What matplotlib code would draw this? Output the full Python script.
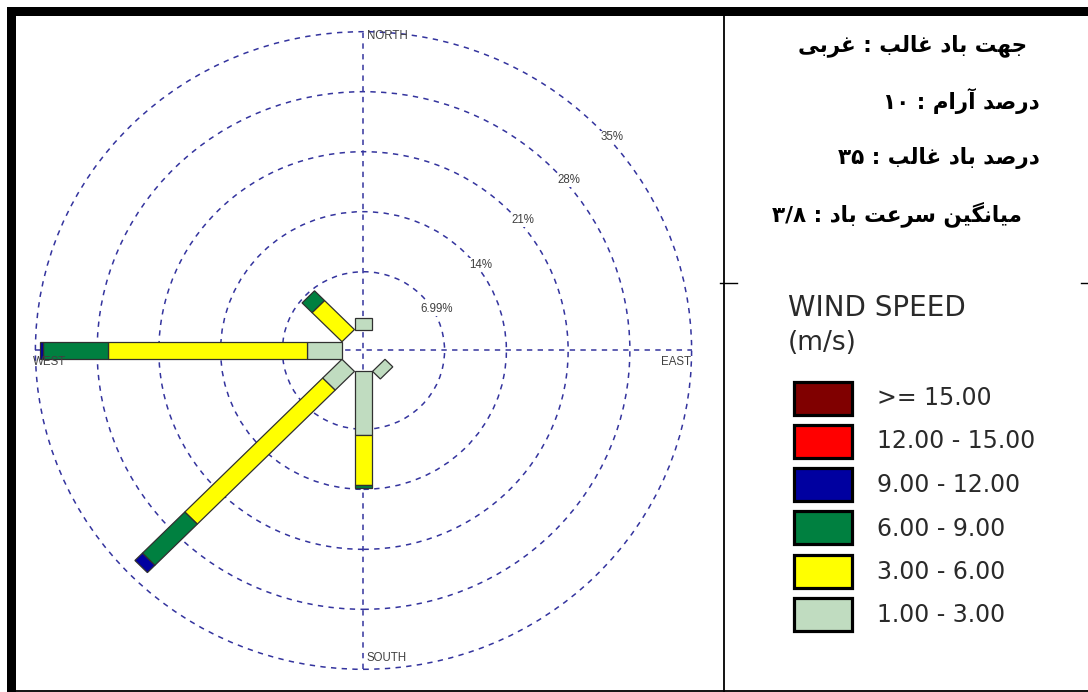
import re
import numpy as np
import matplotlib
matplotlib.use('Agg')
from matplotlib import pyplot as plt
from matplotlib.patches import Polygon, Circle, Rectangle

# wind rose data (percent of time), 16 directions, clockwise from north
directions = ['N', 'NNE', 'NE', 'ENE', 'E', 'ESE', 'SE', 'SSE',
              'S', 'SSW', 'SW', 'WSW', 'W', 'WNW', 'NW', 'NNW']
speed_1_3 = [1.3, 0, 0, 0, 0, 0, 1.25, 0, 7.4, 0, 3.1, 0, 4.0, 0, 0, 0]
speed_3_6 = [0, 0, 0, 0, 0, 0, 0, 0, 5.9, 0, 22.1, 0, 22.5, 0, 4.8, 0]
speed_6_9 = [0, 0, 0, 0, 0, 0, 0, 0, 0.27, 0, 6.8, 0, 7.4, 0, 1.6, 0]
speed_9_12 = [0, 0, 0, 0, 0, 0, 0, 0, 0, 0, 1.2, 0, 0.37, 0, 0, 0]
speed_12_15 = [0] * 16
speed_15_up = [0] * 16

ring_values = [6.99, 14, 21, 28, 35]
ring_labels = ['6.99%', '14%', '21%', '28%', '35%']
ring_label_angles = [30, 37, 40, 40.5, 41.5]

legend_labels = ['>= 15.00', '12.00 - 15.00', '9.00 - 12.00',
                 '6.00 - 9.00', '3.00 - 6.00', '1.00 - 3.00']
legend_colors = ['#800000', '#FF0000', '#0000A0', '#008040', '#FFFF00', '#C0DCC0']

info_lines = ['جهت باد غالب : غربی',
              'درصد آرام : ۱۰',
              'درصد باد غالب : ۳۵',
              'میانگین سرعت باد : ۳/۸']

# --- simple persian shaping (matplotlib has no bidi / joining support) ---
forms = {
    'ا': ('\uFE8D', '\uFE8E', None, None),
    'آ': ('\uFE81', '\uFE82', None, None),
    'د': ('\uFEA9', '\uFEAA', None, None),
    'ر': ('\uFEAD', '\uFEAE', None, None),
    'ب': ('\uFE8F', '\uFE90', '\uFE91', '\uFE92'),
    'ت': ('\uFE95', '\uFE96', '\uFE97', '\uFE98'),
    'ج': ('\uFE9D', '\uFE9E', '\uFE9F', '\uFEA0'),
    'س': ('\uFEB1', '\uFEB2', '\uFEB3', '\uFEB4'),
    'ص': ('\uFEB9', '\uFEBA', '\uFEBB', '\uFEBC'),
    'ع': ('\uFEC9', '\uFECA', '\uFECB', '\uFECC'),
    'غ': ('\uFECD', '\uFECE', '\uFECF', '\uFED0'),
    'ل': ('\uFEDD', '\uFEDE', '\uFEDF', '\uFEE0'),
    'م': ('\uFEE1', '\uFEE2', '\uFEE3', '\uFEE4'),
    'ن': ('\uFEE5', '\uFEE6', '\uFEE7', '\uFEE8'),
    'ه': ('\uFEE9', '\uFEEA', '\uFEEB', '\uFEEC'),
    'ی': ('\uFBFC', '\uFBFD', '\uFBFE', '\uFBFF'),
    'گ': ('\uFB92', '\uFB93', '\uFB94', '\uFB95'),
}


def shape(text):
    out = []
    for i, ch in enumerate(text):
        if ch not in forms:
            out.append(ch)
            continue
        prev = text[i - 1] if i > 0 else ''
        nxt = text[i + 1] if i < len(text) - 1 else ''
        jp = prev in forms and forms[prev][2] is not None
        jn = forms[ch][2] is not None and nxt in forms
        f = forms[ch]
        if jp and jn:
            out.append(f[3])
        elif jp:
            out.append(f[1])
        elif jn:
            out.append(f[2])
        else:
            out.append(f[0])
    vis = ''.join(out)[::-1]
    return re.sub('[۰-۹/]+', lambda m: m.group(0)[::-1], vis)


W, H = 1088, 692
fig = plt.figure(figsize=(W / 100, H / 100), dpi=100)


def fx(x):
    return x / W


def fy(y):
    return 1 - y / H


# ---------------- wind rose ----------------
sx, sy = 8.82, 8.57       # px per percent
cx, cy = 363.5, 350.5     # centre in px
L = 38.5
ax = fig.add_axes([fx(cx - L * sx), fy(cy + L * sy), 2 * L * sx / W, 2 * L * sy / H])
ax.set_xlim(-L, L)
ax.set_ylim(-L, L)
ax.set_aspect('auto')
ax.axis('off')

hole = 2.2
bar_start = 2.45
grid_col = '#34349e'
grid_ls = (0, (3.5, 3.5))
rmax = hole + ring_values[-1]
for v in ring_values:
    ax.add_patch(Circle((0, 0), hole + v, fill=False, ec=grid_col, lw=1.1,
                        ls=grid_ls, zorder=1))
ax.plot([-rmax, rmax], [0, 0], color=grid_col, lw=1.1, ls=grid_ls, zorder=1)
ax.plot([0, 0], [-rmax, rmax], color=grid_col, lw=1.1, ls=grid_ls, zorder=1)

classes = [speed_1_3, speed_3_6, speed_6_9, speed_9_12, speed_12_15, speed_15_up]
class_colors = legend_colors[::-1]
half_w = 1.0
for i, d in enumerate(directions):
    th = np.deg2rad(i * 22.5)
    u = np.array([np.sin(th), np.cos(th)])
    p = np.array([np.cos(th), -np.sin(th)])
    r0 = bar_start
    for vals, col in zip(classes, class_colors):
        if vals[i] <= 0:
            continue
        r1 = r0 + vals[i]
        pts = [r0 * u + half_w * p, r1 * u + half_w * p,
               r1 * u - half_w * p, r0 * u - half_w * p]
        ax.add_patch(Polygon(pts, closed=True, fc=col, ec='#303030', lw=0.9, zorder=3))
        r0 = r1

lab_font = dict(family='Liberation Sans', fontsize=8.3, color='#404040')
for v, lab, ang in zip(ring_values, ring_labels, ring_label_angles):
    r = hole + v + 0.4
    a = np.deg2rad(ang)
    ax.text(r * np.cos(a), r * np.sin(a), lab, ha='center', va='center', zorder=4,
            bbox=dict(fc='white', ec='none', pad=0.3), **lab_font)

ax.text(0.35, 36.75, 'NORTH', ha='left', va='center', **lab_font)
ax.text(0.35, -35.85, 'SOUTH', ha='left', va='center', **lab_font)
ax.text(-37.5, -1.35, 'WEST', ha='left', va='center', **lab_font)
ax.text(37.1, -1.3, 'EAST', ha='right', va='center', **lab_font)

# ---------------- frame / table lines ----------------
fig.add_artist(Rectangle((fx(7), fy(15.7)), fx(W - 7), 8.4 / H, fc='black', ec='none'))
fig.add_artist(Rectangle((fx(6.7), 0), 9 / W, fy(7.3), fc='black', ec='none'))
fig.add_artist(plt.Line2D([fx(15), 1], [fy(691), fy(691)], color='black', lw=1.3))
fig.add_artist(plt.Line2D([fx(724), fx(724)], [fy(16), 0], color='black', lw=1.3))
fig.add_artist(plt.Line2D([fx(720), fx(737)], [fy(283), fy(283)], color='black', lw=1.0))
fig.add_artist(plt.Line2D([fx(1081), 1], [fy(283), fy(283)], color='black', lw=1.0))

# ---------------- persian summary ----------------
info_x = [1027, 1040, 1040, 1022]
info_y = [46, 101, 158, 214]
for s, x, y in zip(info_lines, info_x, info_y):
    fig.text(fx(x), fy(y), shape(s), ha='right', va='center', family='DejaVu Sans',
             fontweight='bold', fontsize=15.5, color='black')

# ---------------- legend ----------------
fig.text(fx(788), fy(308), 'WIND SPEED', ha='left', va='center', family='DejaVu Sans',
         fontsize=20, color='#2a2a2a')
fig.text(fx(788), fy(343), '(m/s)', ha='left', va='center', family='DejaVu Sans',
         fontsize=19, color='#2a2a2a')
for i, (lab, col) in enumerate(zip(legend_labels, legend_colors)):
    top = 380 + i * 43.3
    fig.add_artist(Rectangle((fx(793.5), fy(top + 34.5)), 58.5 / W, 33 / H,
                             fc=col, ec='black', lw=2.3))
    fig.text(fx(877), fy(398 + i * 43.5), lab, ha='left', va='center',
             family='DejaVu Sans', fontsize=17, color='#2a2a2a')

fig.savefig('out.png', dpi=100, facecolor='white')
